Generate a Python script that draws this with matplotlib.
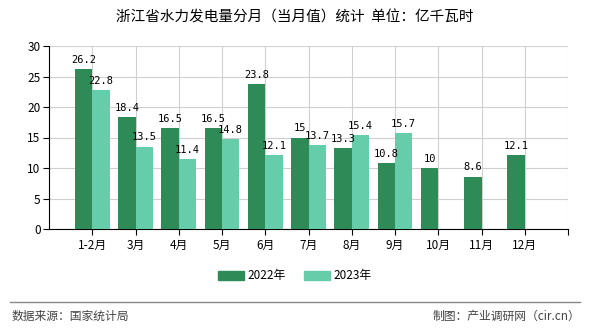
import matplotlib
matplotlib.use("Agg")
import matplotlib.pyplot as plt
import numpy as np
from matplotlib.patches import Rectangle
from matplotlib.lines import Line2D

plt.rcParams['font.family'] = ['Noto Sans CJK SC', 'DejaVu Sans']

categories = ["1-2月", "3月", "4月", "5月", "6月", "7月", "8月", "9月", "10月", "11月", "12月"]
v2022 = [26.2, 18.4, 16.5, 16.5, 23.8, 15, 13.3, 10.8, 10, 8.6, 12.1]
v2023 = [22.8, 13.5, 11.4, 14.8, 12.1, 13.7, 15.4, 15.7]
labels2022 = ["26.2", "18.4", "16.5", "16.5", "23.8", "15", "13.3", "10.8", "10", "8.6", "12.1"]
labels2023 = ["22.8", "13.5", "11.4", "14.8", "12.1", "13.7", "15.4", "15.7"]
series_names = ["2022年", "2023年"]
colors = ["#2E8B57", "#66CDAA"]
yticks = [0, 5, 10, 15, 20, 25, 30]

fig = plt.figure(figsize=(5.9, 3.3), dpi=100)
ax = fig.add_axes([49/590, 1-229/330, (568-49)/590, (229-46)/330])

x = np.arange(len(categories))
w = 0.4
b1 = ax.bar(x[:len(v2022)] - w/2, v2022, width=w, color=colors[0], zorder=3)
b2 = ax.bar(x[:len(v2023)] + w/2, v2023, width=w, color=colors[1], zorder=3)

mono = {'family': ['DejaVu Sans Mono'], 'size': 7.5}
for rect, lab in zip(b1, labels2022):
    ax.annotate(lab, (rect.get_x() + rect.get_width()/2, rect.get_height()),
                xytext=(0, 3), textcoords='offset points', ha='center', va='bottom', **mono)
for rect, lab in zip(b2, labels2023):
    ax.annotate(lab, (rect.get_x() + rect.get_width()/2, rect.get_height()),
                xytext=(0, 3), textcoords='offset points', ha='center', va='bottom', **mono)

ax.set_xlim(-1, len(categories))
ax.set_ylim(0, 30)
ax.set_yticks(yticks)
ax.set_xticks(list(x) + [len(categories)])
ax.set_xticklabels(categories + [""], fontsize=8.5)
ax.tick_params(axis='y', labelsize=8.5, length=4, pad=2)
ax.tick_params(axis='x', length=4, pad=3)
ax.grid(True, color='#d0d0d0', linewidth=0.8, zorder=0)
for s in ['top', 'right']:
    ax.spines[s].set_visible(False)
ax.spines['left'].set_color('black')
ax.spines['bottom'].set_color('black')

fig.text(0.5, 1-17/330, "浙江省水力发电量分月（当月值）统计  单位：亿千瓦时", ha='center', va='center', fontsize=10.5)

handles = [Rectangle((0, 0), 1, 1, color=c) for c in colors]
fig.legend(handles, series_names, loc='center', bbox_to_anchor=(0.5, 1-276/330), ncol=2,
           frameon=False, fontsize=8.5, handlelength=2.2, handleheight=0.9, columnspacing=1.5,
           handletextpad=0.3)

fig.add_artist(Line2D([10/590, 580/590], [1-302/330, 1-302/330], color='#888888', linewidth=1))
fig.text(12/590, 1-316/330, "数据来源：国家统计局", ha='left', va='center', fontsize=8.5, color='#444444')
fig.text(580/590, 1-316/330, "制图：产业调研网（cir.cn）", ha='right', va='center', fontsize=8.5, color='#444444')

fig.savefig("out.png", dpi=100)
